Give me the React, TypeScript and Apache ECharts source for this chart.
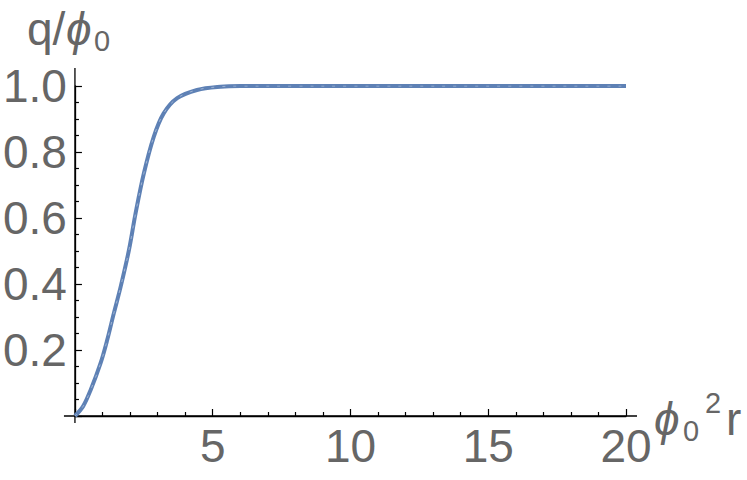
import React, { useEffect, useRef } from "react";
import * as echarts from "echarts";

const xValues = [0, 0.3, 0.57, 0.93, 1.17, 1.41, 1.66, 1.96, 2.2, 2.5, 2.86, 3.22, 3.71, 4.43, 5.28, 6.0, 8, 10, 14, 20];
const qValues = [0, 0.03, 0.079, 0.16, 0.23, 0.311, 0.392, 0.503, 0.614, 0.735, 0.846, 0.917, 0.963, 0.988, 0.998, 1.0, 1.0, 1.0, 1.0, 1.0];
const xTickLabels = [5, 10, 15, 20];
const yTickLabels = [0.2, 0.4, 0.6, 0.8, 1.0];

const LINE_COLOR = "#5E81B5";
const TEXT_COLOR = "#666666";
const FONT = "Liberation Sans, Arial, sans-serif";

function txt(text: string, x: number, y: number, size: number, italic = false) {
  return {
    type: "text",
    x,
    y,
    silent: true,
    style: {
      text,
      fill: TEXT_COLOR,
      font: `${italic ? "italic " : ""}${size}px ${FONT}`,
      fontSize: size,
      fontFamily: FONT,
      fontStyle: italic ? "italic" : "normal",
      textAlign: "left",
      textVerticalAlign: "middle",
      align: "left",
      verticalAlign: "middle",
    },
  };
}

export default function App() {
  const ref = useRef<HTMLDivElement>(null);
  useEffect(() => {
    if (!ref.current) return;
    const chart = echarts.init(ref.current, null, { renderer: "svg" });
    const data = xValues.map((x, i) => [x, qValues[i]]);
    chart.setOption({
      animation: false,
      grid: { left: 74.3, right: 121, top: 86, bottom: 64, containLabel: false },
      xAxis: {
        type: "value",
        min: 0,
        max: 20,
        interval: 5,
        axisLine: { show: true, onZero: false, lineStyle: { color: "#000", width: 1.3 } },
        axisTick: { show: true, inside: true, length: 7, lineStyle: { color: "#000", width: 1.2 } },
        minorTick: { show: true, splitNumber: 5, length: 4, lineStyle: { color: "#000", width: 1.2 } },
        splitLine: { show: false },
        axisLabel: {
          color: TEXT_COLOR,
          fontSize: 46,
          fontFamily: FONT,
          margin: 7,
          formatter: (v: number) => (xTickLabels.includes(v) ? String(v) : ""),
        },
      },
      yAxis: {
        type: "value",
        min: 0,
        max: 1,
        interval: 0.2,
        axisLine: { show: true, onZero: false, lineStyle: { color: "#000", width: 1.3 } },
        axisTick: { show: true, inside: true, length: 7, lineStyle: { color: "#000", width: 1.2 } },
        minorTick: { show: true, splitNumber: 4, length: 4, lineStyle: { color: "#000", width: 1.2 } },
        splitLine: { show: false },
        axisLabel: {
          color: TEXT_COLOR,
          fontSize: 46,
          fontFamily: FONT,
          margin: 8,
          formatter: (v: number) => {
            const m = yTickLabels.find((t) => Math.abs(t - v) < 1e-6);
            return m !== undefined ? m.toFixed(1) : "";
          },
        },
      },
      series: [
        {
          type: "line",
          data,
          smooth: 0.35,
          showSymbol: false,
          lineStyle: { color: LINE_COLOR, width: 4 },
          z: 2,
        },
        {
          type: "line",
          data,
          smooth: 0.35,
          showSymbol: false,
          lineStyle: { color: "rgba(255,255,255,0.4)", width: 1, type: [3, 8] },
          z: 3,
        },
      ],
    });
    const o = chart.convertToPixel({ xAxisIndex: 0, yAxisIndex: 0 }, [0, 0]) as number[];
    const e = chart.convertToPixel({ xAxisIndex: 0, yAxisIndex: 0 }, [20, 1]) as number[];
    chart.setOption({
      graphic: [
        { type: "line", silent: true, shape: { x1: o[0] - 11, y1: o[1], x2: e[0] + 11, y2: o[1] }, style: { stroke: "#000", lineWidth: 1.3 } },
        { type: "line", silent: true, shape: { x1: o[0], y1: o[1] + 7, x2: o[0], y2: e[1] - 18 }, style: { stroke: "#000", lineWidth: 1.3 } },
        txt("q/", 27, 29, 46),
        txt("\u03D5", 66, 29, 46, true),
        txt("0", 94, 41, 29),
        txt("\u03D5", 654, 419, 46, true),
        txt("0", 683, 431, 29),
        txt("2", 705, 403, 29),
        txt("r", 726, 419, 46),
      ],
    });
    return () => chart.dispose();
  }, []);
  return <div ref={ref} style={{ position: "absolute", left: 0, top: 0, width: 747, height: 480 }} />;
}
